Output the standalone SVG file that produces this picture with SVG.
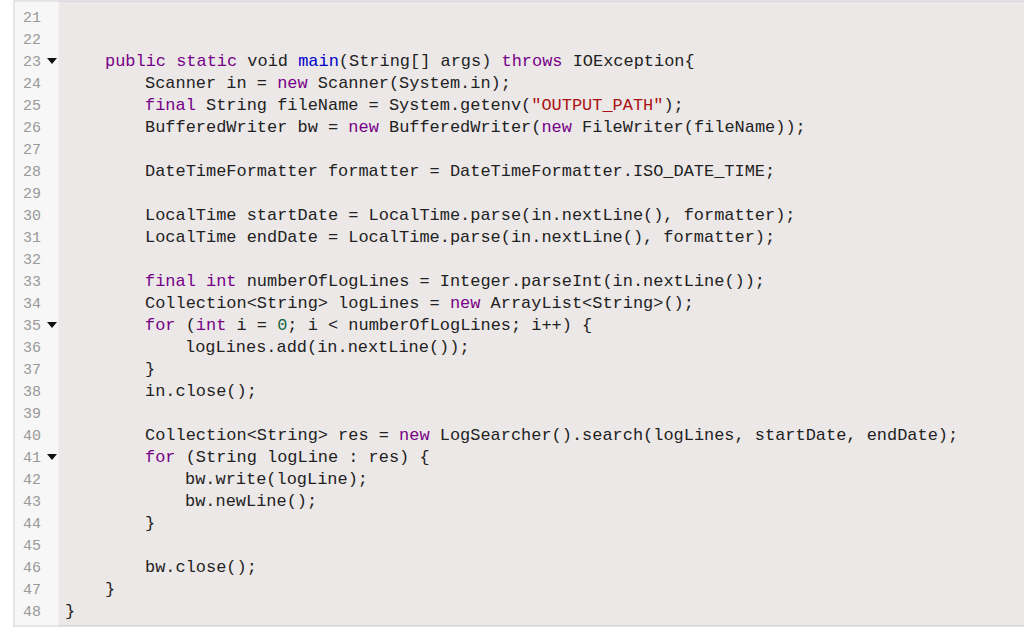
<svg xmlns="http://www.w3.org/2000/svg" width="1024" height="639" viewBox="0 0 1024 639">
<style>
.c{font-family:"Liberation Mono",monospace;font-size:16.95px;fill:#222;white-space:pre}
.n{font-family:"Liberation Mono",monospace;font-size:15px;fill:#999;text-anchor:end}
.k{fill:#770088}.f{fill:#0000cc}.s{fill:#aa1111}.d{fill:#116644}
</style>
<rect x="0" y="0" width="1024" height="639" fill="#ffffff"/>
<rect x="14" y="1" width="1012" height="625" fill="#ece8e7" stroke="#c4c8d4"/>
<rect x="14.5" y="1.5" width="44" height="624" fill="#f7f7f7"/>
<g id="gutter">
<text class="n" x="41" y="22">21</text><text class="n" x="41" y="44">22</text><text class="n" x="41" y="66">23</text><text class="n" x="41" y="88">24</text><text class="n" x="41" y="110">25</text><text class="n" x="41" y="132">26</text><text class="n" x="41" y="154">27</text><text class="n" x="41" y="176">28</text><text class="n" x="41" y="198">29</text><text class="n" x="41" y="220">30</text><text class="n" x="41" y="242">31</text><text class="n" x="41" y="264">32</text><text class="n" x="41" y="286">33</text><text class="n" x="41" y="308">34</text><text class="n" x="41" y="330">35</text><text class="n" x="41" y="352">36</text><text class="n" x="41" y="374">37</text><text class="n" x="41" y="396">38</text><text class="n" x="41" y="418">39</text><text class="n" x="41" y="440">40</text><text class="n" x="41" y="462">41</text><text class="n" x="41" y="484">42</text><text class="n" x="41" y="506">43</text><text class="n" x="41" y="528">44</text><text class="n" x="41" y="550">45</text><text class="n" x="41" y="572">46</text><text class="n" x="41" y="594">47</text><text class="n" x="41" y="616">48</text>
<polygon points="47,58 57,58 52,64" fill="#111"/>
<polygon points="47,322 57,322 52,328" fill="#111"/>
<polygon points="47,454 57,454 52,460" fill="#111"/>
</g>
<g id="code" class="c">
<text x="105" y="66"><tspan class="k">public</tspan> <tspan class="k">static</tspan> void <tspan class="f">main</tspan>(String[] args) <tspan class="k">throws</tspan> IOException{</text>
<text x="145" y="88">Scanner in = <tspan class="k">new</tspan> Scanner(System.in);</text>
<text x="145" y="110"><tspan class="k">final</tspan> String fileName = System.getenv(<tspan class="s">"OUTPUT_PATH"</tspan>);</text>
<text x="145" y="132">BufferedWriter bw = <tspan class="k">new</tspan> BufferedWriter(<tspan class="k">new</tspan> FileWriter(fileName));</text>
<text x="145" y="176">DateTimeFormatter formatter = DateTimeFormatter.ISO_DATE_TIME;</text>
<text x="145" y="220">LocalTime startDate = LocalTime.parse(in.nextLine(), formatter);</text>
<text x="145" y="242">LocalTime endDate = LocalTime.parse(in.nextLine(), formatter);</text>
<text x="145" y="286"><tspan class="k">final</tspan> <tspan class="k">int</tspan> numberOfLogLines = Integer.parseInt(in.nextLine());</text>
<text x="145" y="308">Collection&lt;String&gt; logLines = <tspan class="k">new</tspan> ArrayList&lt;String&gt;();</text>
<text x="145" y="330"><tspan class="k">for</tspan> (<tspan class="k">int</tspan> i = <tspan class="d">0</tspan>; i &lt; numberOfLogLines; i++) {</text>
<text x="185" y="352">logLines.add(in.nextLine());</text>
<text x="145" y="374">}</text>
<text x="145" y="396">in.close();</text>
<text x="145" y="440">Collection&lt;String&gt; res = <tspan class="k">new</tspan> LogSearcher().search(logLines, startDate, endDate);</text>
<text x="145" y="462"><tspan class="k">for</tspan> (String logLine : res) {</text>
<text x="185" y="484">bw.write(logLine);</text>
<text x="185" y="506">bw.newLine();</text>
<text x="145" y="528">}</text>
<text x="145" y="572">bw.close();</text>
<text x="105" y="594">}</text>
<text x="65" y="616">}</text>
</g>
</svg>
